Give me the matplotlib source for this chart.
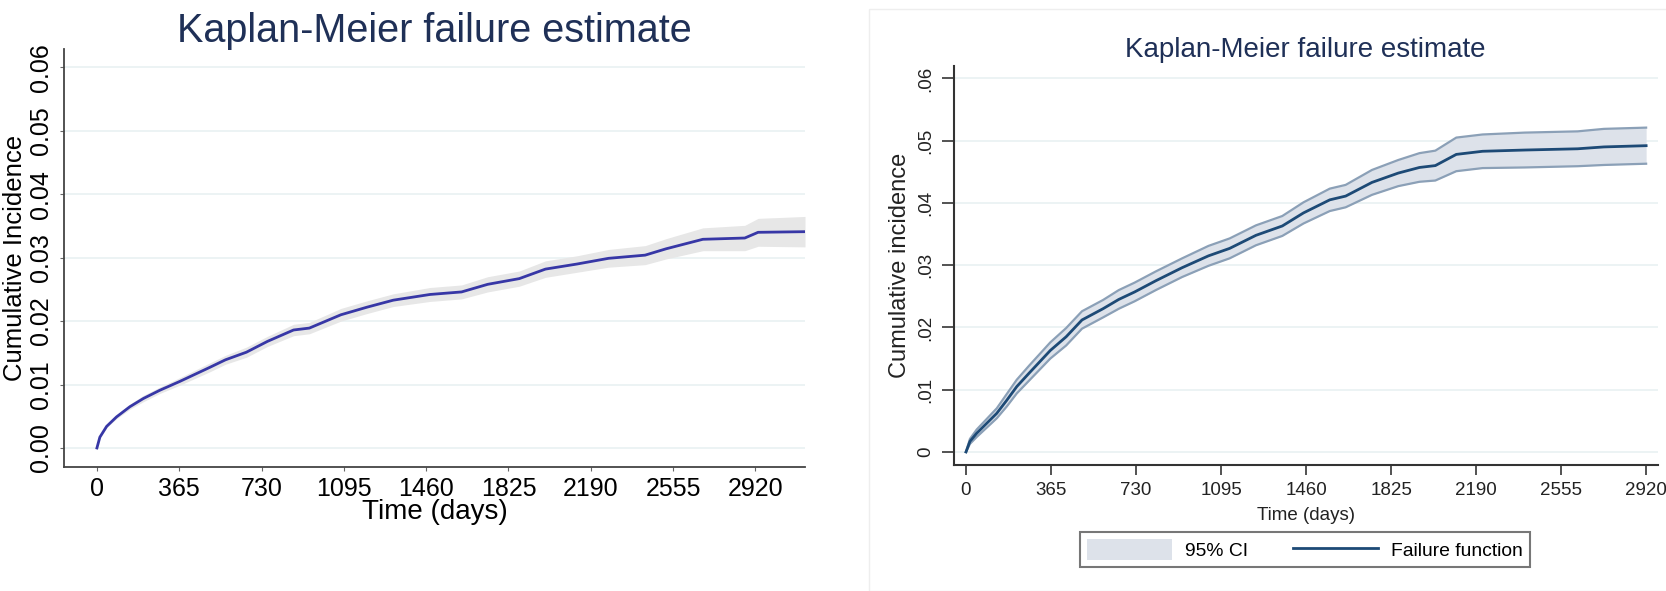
import numpy as np
import matplotlib.pyplot as plt
from matplotlib.patches import Rectangle

plt.rcParams['font.family'] = ['Liberation Sans', 'DejaVu Sans']

# ---- left panel: KM failure estimate with 95% band
left_days = [0, 13, 43, 87, 146, 206, 279, 368, 500, 570, 663, 756, 872, 942,
             1082, 1198, 1314, 1477, 1617, 1733, 1873, 1989, 2129, 2269, 2431,
             2524, 2687, 2873, 2932, 3140]
left_est = [0, .0017, .0034, .0049, .0065, .0078, .0091, .0105, .0127, .0139,
            .0151, .0168, .0186, .0189, .0210, .0222, .0233, .0242, .0246, .0258,
            .0267, .0282, .0290, .0299, .0304, .0314, .0329, .0331, .0340, .0341]
left_lo = [0, .0016, .0032, .0046, .0061, .0073, .0086, .0099, .0120, .0132,
           .0143, .0160, .0177, .0180, .0200, .0212, .0223, .0231, .0235, .0246,
           .0255, .0269, .0277, .0285, .0289, .0298, .0311, .0311, .0318, .0317]
left_hi = [0, .0018, .0036, .0052, .0069, .0083, .0096, .0111, .0134, .0146,
           .0159, .0176, .0195, .0198, .0220, .0232, .0243, .0253, .0257, .0270,
           .0279, .0295, .0303, .0313, .0319, .0330, .0347, .0351, .0362, .0365]

# ---- right panel: failure function with 95% CI
right_days = [0, 17, 46, 89, 132, 175, 218, 272, 362, 430, 498, 588, 656, 724,
              815, 928, 1041, 1132, 1245, 1358, 1449, 1562, 1630, 1743, 1856,
              1947, 2015, 2105, 2218, 2399, 2626, 2739, 2920]
right_est = [0, .0017, .0030, .0046, .0062, .0083, .0105, .0127, .0163, .0185,
             .0212, .0230, .0245, .0257, .0275, .0296, .0315, .0327, .0348, .0363,
             .0384, .0405, .0411, .0433, .0448, .0457, .0460, .0478, .0483, .0485,
             .0487, .0490, .0492]
right_lo = [0, .0013, .0024, .0039, .0054, .0073, .0094, .0115, .0150, .0171,
            .0198, .0216, .0230, .0242, .0260, .0281, .0299, .0311, .0332, .0347,
            .0367, .0387, .0393, .0413, .0427, .0434, .0436, .0451, .0456, .0457,
            .0459, .0461, .0463]
right_hi = [0, .0021, .0036, .0053, .0070, .0093, .0116, .0139, .0176, .0199,
            .0226, .0244, .0260, .0272, .0290, .0311, .0331, .0343, .0364, .0379,
            .0401, .0423, .0429, .0453, .0469, .0480, .0484, .0505, .0510, .0513,
            .0515, .0519, .0521]

x_ticks = [0, 365, 730, 1095, 1460, 1825, 2190, 2555, 2920]
y_ticks = [0, .01, .02, .03, .04, .05, .06]
left_ylabels = ['0.00', '0.01', '0.02', '0.03', '0.04', '0.05', '0.06']
right_ylabels = ['0', '.01', '.02', '.03', '.04', '.05', '.06']

W, H = 1666, 591
fig = plt.figure(figsize=(W / 100, H / 100), dpi=100)

title_col = '#1f3057'
grid_col = '#e9f1f2'

# light frame around the right graph
fig.add_artist(Rectangle((869 / W, 0), 1, 1 - 9 / H, transform=fig.transFigure,
                         fill=False, edgecolor='#eeeeee', lw=1))

# ---------------- left
ax1 = fig.add_axes([64 / W, 1 - 467 / H, (805 - 64) / W, (467 - 49) / H])
ax1.fill_between(left_days, left_lo, left_hi, color='#e7e7e7', lw=0)
ax1.plot(left_days, left_est, color='#3737a6', lw=2)
ax1.set_xlim(-146, 3140)
ax1.set_ylim(-0.003, 0.0629)
ax1.set_xticks(x_ticks)
ax1.set_yticks(y_ticks)
ax1.set_yticklabels(left_ylabels)
for yv in y_ticks:
    ax1.axhline(yv, color=grid_col, lw=1.2, zorder=0)
for s in ['top', 'right']:
    ax1.spines[s].set_visible(False)
for s in ['left', 'bottom']:
    ax1.spines[s].set_color('#444444')
    ax1.spines[s].set_linewidth(1.3)
ax1.tick_params(axis='x', length=3, color='#666666', labelsize=18, pad=4)
ax1.tick_params(axis='y', length=3, color='#666666', labelsize=18, pad=5,
                labelrotation=90)
for lab in ax1.get_yticklabels():
    lab.set_va('center')
ax1.set_xlabel('Time (days)', fontsize=20, labelpad=-1)
ax1.set_ylabel('Cumulative Incidence', fontsize=18.5, labelpad=1)
fig.text(434 / W, 1 - 42 / H, 'Kaplan-Meier failure estimate', ha='center',
         va='baseline', fontsize=28.5, color=title_col)

# ---------------- right
ax2 = fig.add_axes([954 / W, 1 - 465 / H, (1658 - 954) / W, (465 - 66) / H])
ax2.fill_between(right_days, right_lo, right_hi, color='#dde2ea', lw=0,
                 label='95% CI')
ax2.plot(right_days, right_lo, color='#8ba0b7', lw=1.6)
ax2.plot(right_days, right_hi, color='#8ba0b7', lw=1.6)
ax2.plot(right_days, right_est, color='#1d4a76', lw=2, label='Failure function')
ax2.set_xlim(-51.5, 2971)
ax2.set_ylim(-0.0021, 0.062)
ax2.set_xticks(x_ticks)
ax2.set_yticks(y_ticks)
ax2.set_yticklabels(right_ylabels)
for yv in y_ticks:
    ax2.axhline(yv, color=grid_col, lw=1.2, zorder=0)
for s in ['top', 'right']:
    ax2.spines[s].set_visible(False)
for s in ['left', 'bottom']:
    ax2.spines[s].set_color('#333333')
    ax2.spines[s].set_linewidth(1.5)
ax2.tick_params(axis='x', length=7, width=1.3, color='#444444', labelsize=13.5,
                pad=5, labelcolor='#222222')
ax2.tick_params(axis='y', length=9, width=1.3, color='#444444', labelsize=13.5,
                pad=5, labelrotation=90, labelcolor='#222222')
for lab in ax2.get_yticklabels():
    lab.set_va('center')
ax2.set_xlabel('Time (days)', fontsize=13.5, labelpad=6, color='#222222')
ax2.set_ylabel('Cumulative incidence', fontsize=17, labelpad=5, color='#222222')
fig.text(1305 / W, 1 - 57 / H, 'Kaplan-Meier failure estimate', ha='center',
         va='baseline', fontsize=20, color=title_col)

leg = ax2.legend(loc='center', bbox_to_anchor=(1305 / W, 1 - 549.5 / H),
                 bbox_transform=fig.transFigure, ncol=2, fontsize=13.9,
                 frameon=True, fancybox=False, handlelength=4.4,
                 handleheight=1.25, handletextpad=0.7, columnspacing=2.3,
                 borderpad=0.35, borderaxespad=0)
leg.get_frame().set_edgecolor('#555555')
leg.get_frame().set_linewidth(1.5)

fig.savefig('out.png', dpi=100)
